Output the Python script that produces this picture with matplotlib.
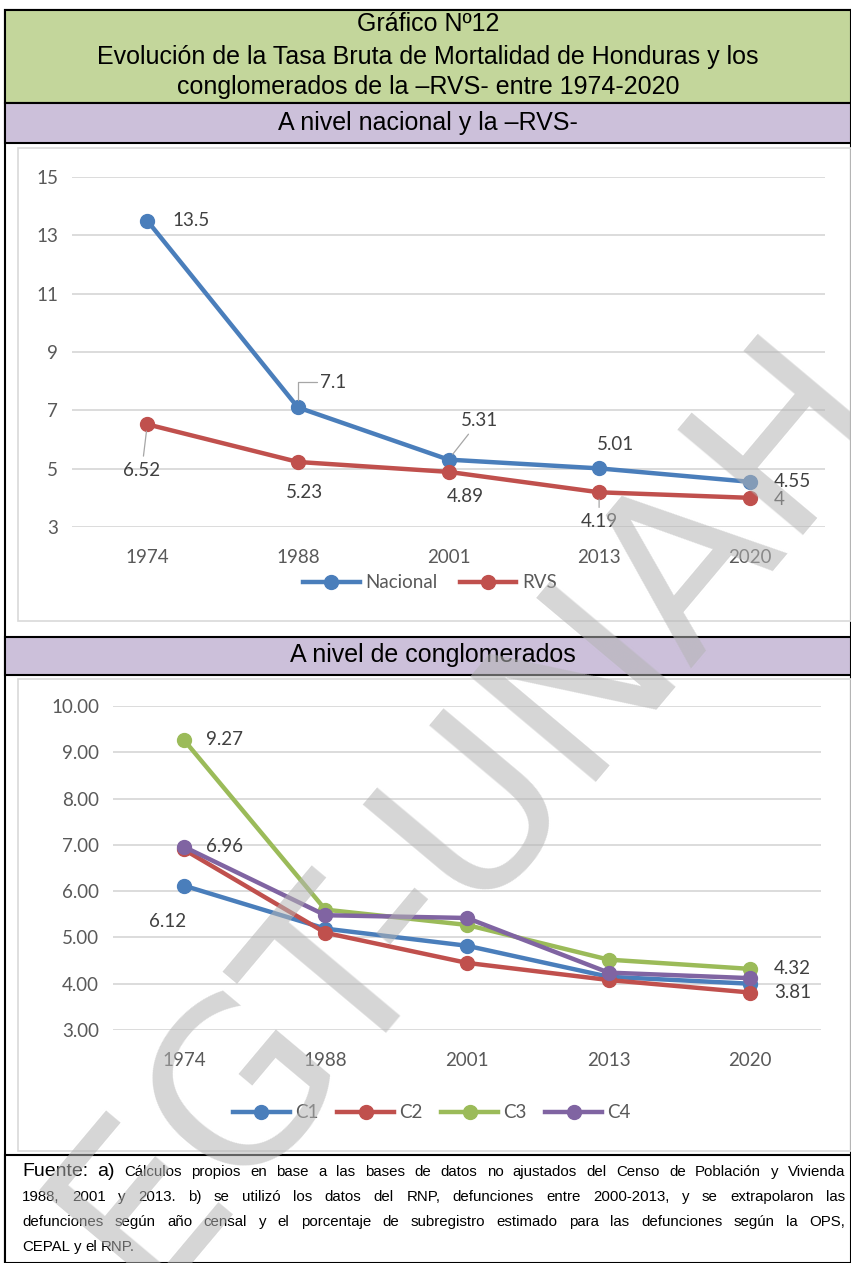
import matplotlib
matplotlib.use('Agg')
import matplotlib.pyplot as plt
from matplotlib.patches import Rectangle

# datos
years = ['1974', '1988', '2001', '2013', '2020']
nacional = [13.5, 7.1, 5.31, 5.01, 4.55]
rvs = [6.52, 5.23, 4.89, 4.19, 4.0]

c1 = [6.12, 5.19, 4.82, 4.15, 4.00]
c2 = [6.90, 5.10, 4.45, 4.08, 3.81]
c3 = [9.27, 5.60, 5.27, 4.52, 4.32]
c4 = [6.96, 5.48, 5.42, 4.24, 4.12]

W, H = 851, 1263
BLUE = '#4a7ebb'
RED = '#c0504d'
GREEN = '#9bbb59'
PURPLE = '#8064a2'
TXT = '#404040'
TICK = '#595959'
CHART_FONT = ['Lato', 'DejaVu Sans']
SANS = ['Liberation Sans', 'DejaVu Sans']

fig = plt.figure(figsize=(W / 100, H / 100), dpi=100)


def fx(px):
    return px / W


def fy(py):
    return 1 - py / H


def box(x0, y0, x1, y1, color, edge='black', lw=1.5):
    fig.patches.append(Rectangle((fx(x0), fy(y1)), fx(x1 - x0), (y1 - y0) / H,
                                 transform=fig.transFigure, facecolor=color,
                                 edgecolor=edge, lw=lw, zorder=-5))


# marcos
box(5, 10, 851, 1263, 'white')
box(5, 10, 851, 103, '#c3d69b')
box(5, 103, 851, 143, '#ccc0da')
box(5, 637, 851, 675, '#ccc0da')
box(5, 1155, 851, 1263, 'white')
box(18, 148, 851, 621, 'none', edge='#d9d9d9', lw=1.2)
box(18, 679, 851, 1151, 'none', edge='#d9d9d9', lw=1.2)

# titulos
for ypx, s in [(24, 'Gráfico Nº12'),
               (57, 'Evolución de la Tasa Bruta de Mortalidad de Honduras y los'),
               (87, 'conglomerados de la –RVS- entre 1974-2020'),
               (123, 'A nivel nacional y la –RVS-')]:
    fig.text(fx(428), fy(ypx), s, ha='center', va='center', fontsize=18, family=SANS)
fig.text(fx(433), fy(655), 'A nivel de conglomerados', ha='center', va='center',
         fontsize=18, family=SANS)


def style(ax, ticks, fmt):
    ax.set_xlim(-0.5, 4.5)
    ax.set_yticks(ticks)
    ax.set_yticklabels([fmt.format(t) for t in ticks])
    ax.set_xticks(range(len(years)))
    ax.set_xticklabels(years)
    ax.grid(axis='y', color='#d9d9d9', lw=1.3)
    ax.set_axisbelow(True)
    for s in ax.spines.values():
        s.set_visible(False)
    ax.tick_params(length=0, labelsize=13.5, labelcolor=TICK, pad=10)
    ax.tick_params(axis='x', pad=16)
    for lab in ax.get_xticklabels() + ax.get_yticklabels():
        lab.set_family(CHART_FONT)
    ax.patch.set_alpha(0)


def label(ax, i, v, text, dx, dy, ha='center', leader=None):
    ax.annotate(text, (i, v), xytext=(dx, dy), textcoords='offset points',
                ha=ha, va='center', fontsize=13.5, color=TXT, family=CHART_FONT,
                arrowprops=leader)


# grafico 1
ax1 = fig.add_axes([fx(72), fy(527), fx(753), 350 / H])
x = range(len(years))
ax1.plot(x, nacional, color=BLUE, lw=3.2, marker='o', ms=10, label='Nacional')
ax1.plot(x, rvs, color=RED, lw=3.2, marker='o', ms=10, label='RVS')
ax1.set_ylim(3, 15)
style(ax1, [3, 5, 7, 9, 11, 13, 15], '{:g}')
lead = dict(arrowstyle='-', color='#a6a6a6', lw=0.9, shrinkA=2, shrinkB=5)
label(ax1, 0, nacional[0], '13.5', 18, 0, ha='left')
label(ax1, 1, nacional[1], '7.1', 16, 18, ha='left',
      leader=dict(arrowstyle='-', color='#a6a6a6', lw=0.9, shrinkA=0, shrinkB=5,
                  connectionstyle='angle,angleA=0,angleB=90,rad=0'))
label(ax1, 2, nacional[2], '5.31', 22, 28, leader=lead)
label(ax1, 3, nacional[3], '5.01', 12, 17)
label(ax1, 4, nacional[4], '4.55', 17, 0, ha='left')
label(ax1, 0, rvs[0], '6.52', -4, -33, leader=lead)
label(ax1, 1, rvs[1], '5.23', 5, -22)
label(ax1, 2, rvs[2], '4.89', 12, -18)
label(ax1, 3, rvs[3], '4.19', 0, -21, leader=lead)
label(ax1, 4, rvs[4], '4', 17, -1, ha='left')
fig.legend(handles=ax1.get_lines(), loc='center', bbox_to_anchor=(fx(430), fy(583)),
           ncol=2, frameon=False, handlelength=3, columnspacing=1.2, handletextpad=0.3,
           prop={'family': CHART_FONT, 'size': 13.5}, labelcolor=TICK)

# grafico 2
ax2 = fig.add_axes([fx(113), fy(1030), fx(708), 324 / H])
ax2.plot(x, c1, color=BLUE, lw=3.2, marker='o', ms=10, label='C1')
ax2.plot(x, c2, color=RED, lw=3.2, marker='o', ms=10, label='C2')
ax2.plot(x, c3, color=GREEN, lw=3.2, marker='o', ms=10, label='C3')
ax2.plot(x, c4, color=PURPLE, lw=3.2, marker='o', ms=10, label='C4')
ax2.set_ylim(3, 10)
style(ax2, [3, 4, 5, 6, 7, 8, 9, 10], '{:.2f}')
label(ax2, 0, c3[0], '9.27', 16, 0, ha='left')
label(ax2, 0, c4[0], '6.96', 16, 0, ha='left')
label(ax2, 0, c1[0], '6.12', -12, -26)
label(ax2, 4, c3[4], '4.32', 17, 0, ha='left')
label(ax2, 4, c2[4], '3.81', 17, 0, ha='left')
fig.legend(handles=ax2.get_lines(), loc='center', bbox_to_anchor=(fx(432), fy(1113)),
           ncol=4, frameon=False, handlelength=3, columnspacing=1.0, handletextpad=0.3,
           prop={'family': CHART_FONT, 'size': 13.5}, labelcolor=TICK)

# fuente (texto justificado)
renderer = fig.canvas.get_renderer()
notes = [
    ([('Fuente:', 14), ('a)', 14)] + [(w, 10.8) for w in
     'Cálculos propios en base a las bases de datos no ajustados del Censo de Población y Vivienda'.split()], True),
    ([(w, 10.8) for w in
      '1988, 2001 y 2013. b) se utilizó los datos del RNP, defunciones entre 2000-2013, y se extrapolaron las'.split()], True),
    ([(w, 10.8) for w in
      'defunciones según año censal y el porcentaje de subregistro estimado para las defunciones según la OPS,'.split()], True),
    ([(w, 10.8) for w in 'CEPAL y el RNP.'.split()], False),
]
for k, (words, just) in enumerate(notes):
    ypx = 1172 + k * 25
    items = [fig.text(0, fy(ypx), w, fontsize=s, family=SANS, va='center', color='black')
             for w, s in words]
    widths = [t.get_window_extent(renderer).width for t in items]
    if just:
        gap = (845 - 22 - sum(widths)) / (len(items) - 1)
    else:
        gap = 4
    xp = 22
    for t, w in zip(items, widths):
        t.set_x(fx(xp))
        xp += w + gap

# marca de agua
fig.text(fx(470), fy(810), 'EGT-UNAH', rotation=50, ha='center', va='center',
         fontsize=162, color='#b4b4b4', alpha=0.55,
         family='DejaVu Sans', zorder=50)

fig.savefig('out.png', dpi=100)
